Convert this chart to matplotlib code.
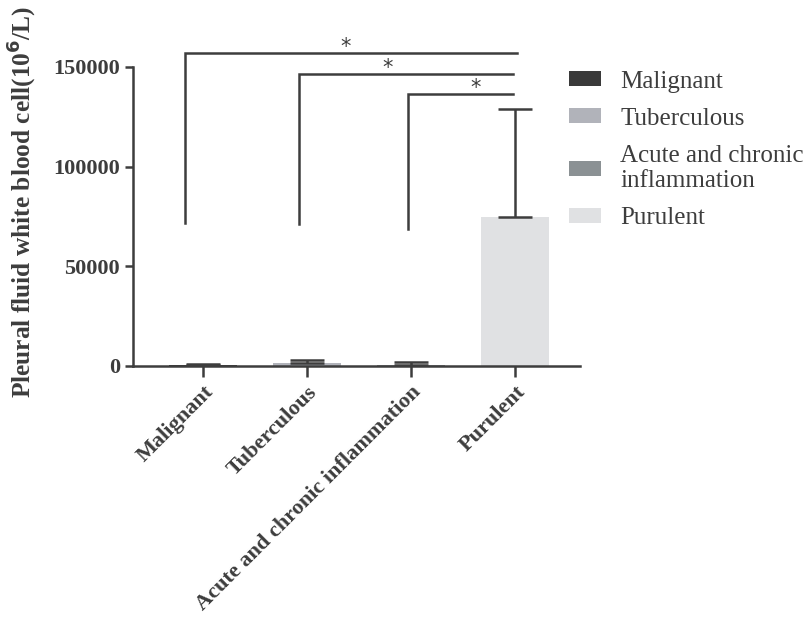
import matplotlib.pyplot as plt
from matplotlib.patches import Patch

# data
categories = ['Malignant', 'Tuberculous', 'Acute and chronic inflammation', 'Purulent']
legend_labels = ['Malignant', 'Tuberculous', 'Acute and chronic\ninflammation', 'Purulent']
means = [400, 1500, 500, 74500]
errs = [800, 1500, 1300, 54500]
colors = ['#3a3a3a', '#b1b3ba', '#8b9194', '#e0e1e3']

# significance brackets: left leg x, right end x, top y, leg bottom y, star x
br_left = [-0.17, 0.92, 1.97]
br_right = [3.02, 2.98, 2.98]
br_top = [157000, 146500, 136500]
br_leg = [71500, 71000, 68500]
star_x = [1.37, 1.77, 2.62]

plt.rcParams['font.family'] = ['Liberation Serif', 'DejaVu Serif']
line_c = '#3d3d3d'

fig = plt.figure(figsize=(8.07, 6.18), dpi=100)
ax = fig.add_axes([0.1648, 0.4078, 0.5539, 0.4838])

x = range(len(categories))
ax.bar(x, means, width=0.66, color=colors, zorder=2)
ax.errorbar(x, means, yerr=[[0] * len(errs), errs], fmt='none',
            ecolor=line_c, elinewidth=1.8, capsize=12, capthick=1.8, zorder=3)

# significance brackets
for i in range(len(br_left)):
    ax.plot([br_left[i], br_left[i], br_right[i]], [br_leg[i], br_top[i], br_top[i]],
            color=line_c, lw=1.8, clip_on=False, solid_joinstyle='miter')
    ax.text(star_x[i], br_top[i] - 2000, '*', ha='center', va='bottom',
            fontsize=15, color=line_c, family='DejaVu Sans')

ax.set_xlim(-0.675, 3.625)
ax.set_ylim(0, 150000)
ax.set_yticks([0, 50000, 100000, 150000])
ax.set_xticks(list(x))
ax.set_xticklabels(categories, rotation=45, ha='right', rotation_mode='anchor',
                   fontweight='bold', fontsize=16, color=line_c)
for lab in ax.get_yticklabels():
    lab.set_fontweight('bold')
    lab.set_fontsize(16)
    lab.set_color(line_c)
ax.set_ylabel('Pleural fluid white blood cell(10$^{\\mathbf{6}}$/L)', fontsize=18.3,
              fontweight='bold', color=line_c)
ax.yaxis.set_label_coords(-0.21, 0.55)

for s in ['top', 'right']:
    ax.spines[s].set_visible(False)
for s in ['left', 'bottom']:
    ax.spines[s].set_linewidth(1.8)
    ax.spines[s].set_color(line_c)
ax.tick_params(axis='both', direction='out', width=1.8, length=6, color=line_c)
ax.tick_params(axis='x', length=8)

handles = [Patch(facecolor=c, edgecolor='none') for c in colors]
fig.legend(handles, legend_labels, loc='upper left', bbox_to_anchor=(0.677, 0.922),
           frameon=False, fontsize=18, handlelength=1.3, handleheight=0.55,
           labelspacing=0.6, handletextpad=0.75, labelcolor=line_c)

fig.savefig('out.png', dpi=100)
